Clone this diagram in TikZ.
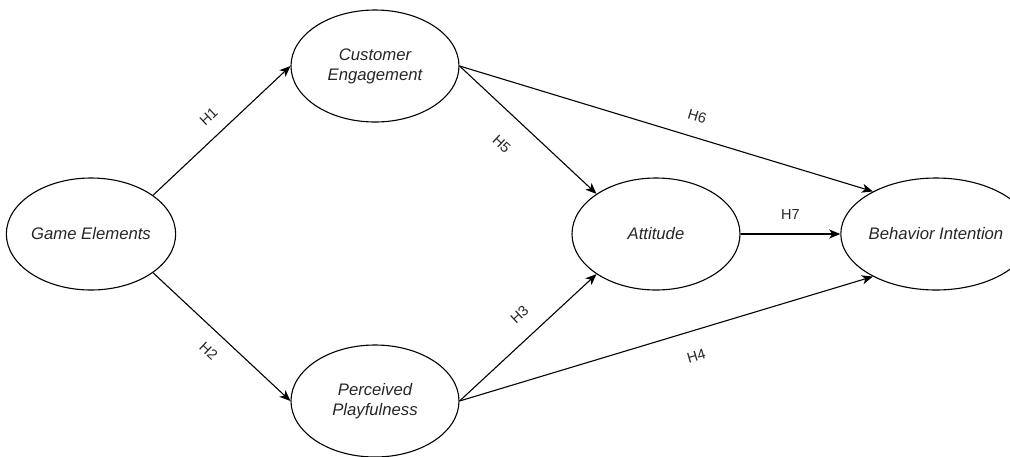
\documentclass[tikz,border=0pt]{standalone}
\usepackage{fontspec}
\setmainfont{Liberation Sans}
\usetikzlibrary{arrows.meta,shapes.geometric}
\tikzset{
  construct/.style={draw=black, line width=1.1pt, ellipse, minimum width=168pt, minimum height=112pt, inner sep=0pt, align=center, font=\fontsize{16.7}{20}\selectfont\itshape, text=black!85},
  link/.style={draw=black, line width=1.1pt, -{Stealth[length=11pt,width=9pt,inset=3pt]}},
  hyp/.style={font=\fontsize{14.5}{17}\selectfont, inner sep=0pt, sloped, text=black!85}
}
\begin{document}
\begin{tikzpicture}[x=1pt,y=-1pt]
\useasboundingbox (0,0) rectangle (1010,456);
\node[construct] (game) at (91,234) {Game Elements};
\node[construct] (cust) at (375,66) {Customer\\Engagement};
\node[construct] (perc) at (375,401) {Perceived\\Playfulness};
\node[construct] (att) at (656,234) {Attitude};
\node[construct] (beh) at (936,234) {Behavior Intention};

\draw[link] (game.32) -- node[hyp, pos=0.5, above=13.5pt] (h1) {H1} (cust.west);
\draw[link] (game.-32) -- node[hyp, pos=0.5, below=13.5pt] (h2) {H2} (perc.west);
\draw[link] (cust.east) -- node[hyp, pos=0.45, below=23pt] (h5) {H5} (att.146);
\draw[link] (perc.east) -- node[hyp, pos=0.55, above=17pt] (h3) {H3} (att.214);
\draw[link] (cust.east) -- node[hyp, pos=0.56, above=15.5pt] (h6) {H6} (beh.146);
\draw[link] (perc.east) -- node[hyp, pos=0.555, below=20pt] (h4) {H4} (beh.214);
\draw[link] (att.east) -- node[hyp, pos=0.5, above=14pt] (h7) {H7} (beh.west);
\end{tikzpicture}
\end{document}
